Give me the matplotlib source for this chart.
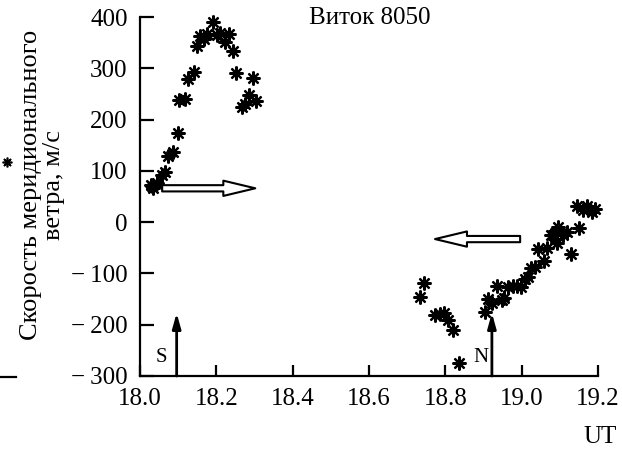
import matplotlib
matplotlib.use("Agg")
import matplotlib.pyplot as plt
from matplotlib.patches import FancyArrowPatch
from matplotlib.lines import Line2D

plt.rcParams['font.family'] = ['Liberation Serif', 'DejaVu Serif']

title = "Виток 8050"
ylabel = "Скорость меридионального\nветра, м/с"
xlabel = "UT"
xticks = [18.0, 18.2, 18.4, 18.6, 18.8, 19.0, 19.2]
xticklabels = ["18.0", "18.2", "18.4", "18.6", "18.8", "19.0", "19.2"]
yticks = [-300, -200, -100, 0, 100, 200, 300, 400]

ut_south = [18.028, 18.035, 18.044, 18.057, 18.065, 18.074, 18.087, 18.099,
            18.102, 18.118, 18.127, 18.141, 18.150, 18.157, 18.168, 18.176,
            18.190, 18.203, 18.210, 18.223, 18.234, 18.244, 18.252, 18.266,
            18.275, 18.286, 18.297, 18.303, 18.031]
v_south = [72, 66, 77, 92, 98, 128, 137, 173,
           238, 240, 279, 293, 344, 362, 357, 366,
           391, 365, 368, 351, 366, 334, 290, 225,
           230, 248, 282, 237, 70]

ut_north = [18.734, 18.744, 18.773, 18.786, 18.797, 18.806, 18.821, 18.836,
            18.904, 18.913, 18.922, 18.935, 18.948, 18.955, 18.965, 18.978,
            18.987, 18.997, 19.009, 19.017, 19.024, 19.035, 19.059, 19.044,
            19.066, 19.078, 19.083, 19.096, 19.092, 19.109, 19.118, 19.128,
            19.150, 19.144, 19.161, 19.170, 19.183, 19.192]
v_north = [-146, -119, -181, -180, -178, -191, -210, -274,
           -175, -150, -158, -124, -152, -148, -127, -124,
           -124, -127, -111, -107, -89, -87, -76, -53,
           -51, -25, -26, -10, -40, -26, -20, -62,
           -12, 31, 24, 31, 20, 25]

# markers of region boundaries (S, N) and motion arrows
marker_ut = [18.096, 18.922]
marker_labels = ["S", "N"]
marker_label_ut = [18.055, 18.894]
marker_top = -177
move_arrows = [(18.058, 66, 18.302, 66), (18.996, -33, 18.773, -33)]

fig = plt.figure(figsize=(6.22, 4.51), dpi=100)
ax = fig.add_axes([0.2251, 0.1663, 0.7363, 0.796])

mk = (8, 2, 0)
ax.plot(ut_south, v_south, linestyle='none', marker=mk, markersize=10,
        markeredgewidth=1.6, color='black', clip_on=False)
ax.plot(ut_north, v_north, linestyle='none', marker=mk, markersize=10,
        markeredgewidth=1.6, color='black', clip_on=False)

ax.set_xlim(18.0, 19.2)
ax.set_ylim(-300, 400)
ax.set_xticks(xticks)
ax.set_xticklabels(xticklabels)
ax.set_yticks(yticks)
ax.set_yticklabels([("\u2212\u2009" + str(-t)) if t < 0 else str(t) for t in yticks])
for s in ['top', 'right']:
    ax.spines[s].set_visible(False)
for s in ['left', 'bottom']:
    ax.spines[s].set_linewidth(1.6)
ax.tick_params(direction='in', width=1.6, labelsize=18)
ax.tick_params(axis='y', length=10, pad=9)
ax.tick_params(axis='x', length=8, pad=9)

# boundary arrows
for u, lu, lab in zip(marker_ut, marker_label_ut, marker_labels):
    ax.annotate("", xy=(u, marker_top), xytext=(u, -300),
                arrowprops=dict(arrowstyle='-|>,head_length=0.9,head_width=0.25',
                                color='black', lw=2.0, shrinkA=0, shrinkB=0))
    ax.text(lu, -263, lab, fontsize=15, ha='center', va='center')

# hollow movement arrows
for x0, y0, x1, y1 in move_arrows:
    p = FancyArrowPatch((x0, y0), (x1, y1),
                        arrowstyle='simple,head_length=2.3,head_width=1.1,tail_width=0.45',
                        mutation_scale=10, facecolor='white', edgecolor='black',
                        lw=1.5, shrinkA=0, shrinkB=0)
    ax.add_patch(p)

ax.text(18.603, 398, title, fontsize=18, ha='center', va='center')

fig.text(0.068, 0.59, ylabel, rotation=90, fontsize=19, ha='center', va='center',
         multialignment='center', linespacing=1.08)
fig.text(0.965, 0.03, xlabel, fontsize=18, ha='center', va='center')

# fragments from neighbouring panels
fig.text(0.965, 1.024, "UT", fontsize=18, ha='center', va='center')
fig.add_artist(Line2D([0.0, 0.025], [1 - 377 / 451, 1 - 377 / 451],
                      transform=fig.transFigure, color='black', lw=1.6))
fig.add_artist(Line2D([0.012], [1 - 162 / 451], transform=fig.transFigure,
                      marker=mk, markersize=7, markeredgewidth=1.2, color='black'))

fig.savefig("out.png", dpi=100)
